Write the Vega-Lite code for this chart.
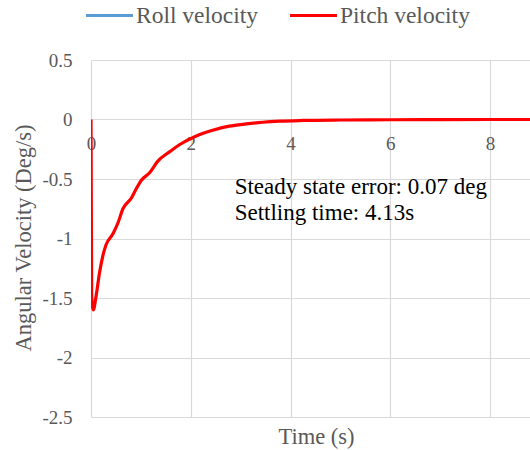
{
  "$schema": "https://vega.github.io/schema/vega-lite/v6.json",
  "autosize": {"type": "none"},
  "padding": {"left": 91, "top": 60, "right": 0, "bottom": 33},
  "width": 439,
  "height": 357,
  "background": "white",
  "config": {
    "view": {"stroke": null},
    "font": "Liberation Serif",
    "axis": {
      "gridColor": "#d9d9d9",
      "gridWidth": 1.2,
      "labelFont": "Liberation Serif",
      "titleFont": "Liberation Serif",
      "labelColor": "#595959",
      "titleColor": "#595959",
      "labelFontSize": 19,
      "titleFontSize": 22.5,
      "titleFontWeight": "normal",
      "ticks": false,
      "domain": false,
      "labelFlush": false,
      "labelExpr": "toString(datum.value)"
    }
  },
  "layer": [
    {
      "data": {
        "values": [
          {"time": 0, "velocity": 0, "series": "Pitch velocity"},
          {"time": 0.013, "velocity": -1.49, "series": "Pitch velocity"},
          {"time": 0.047, "velocity": -1.6, "series": "Pitch velocity"},
          {"time": 0.1, "velocity": -1.49, "series": "Pitch velocity"},
          {"time": 0.17, "velocity": -1.29, "series": "Pitch velocity"},
          {"time": 0.235, "velocity": -1.15, "series": "Pitch velocity"},
          {"time": 0.3, "velocity": -1.055, "series": "Pitch velocity"},
          {"time": 0.44, "velocity": -0.96, "series": "Pitch velocity"},
          {"time": 0.54, "velocity": -0.87, "series": "Pitch velocity"},
          {"time": 0.64, "velocity": -0.75, "series": "Pitch velocity"},
          {"time": 0.81, "velocity": -0.66, "series": "Pitch velocity"},
          {"time": 0.91, "velocity": -0.58, "series": "Pitch velocity"},
          {"time": 1.01, "velocity": -0.51, "series": "Pitch velocity"},
          {"time": 1.17, "velocity": -0.45, "series": "Pitch velocity"},
          {"time": 1.34, "velocity": -0.35, "series": "Pitch velocity"},
          {"time": 1.58, "velocity": -0.27, "series": "Pitch velocity"},
          {"time": 1.78, "velocity": -0.21, "series": "Pitch velocity"},
          {"time": 2.1, "velocity": -0.14, "series": "Pitch velocity"},
          {"time": 2.44, "velocity": -0.09, "series": "Pitch velocity"},
          {"time": 2.77, "velocity": -0.056, "series": "Pitch velocity"},
          {"time": 3.11, "velocity": -0.037, "series": "Pitch velocity"},
          {"time": 3.44, "velocity": -0.023, "series": "Pitch velocity"},
          {"time": 3.78, "velocity": -0.014, "series": "Pitch velocity"},
          {"time": 4.25, "velocity": -0.008, "series": "Pitch velocity"},
          {"time": 5, "velocity": -0.004, "series": "Pitch velocity"},
          {"time": 6, "velocity": -0.002, "series": "Pitch velocity"},
          {"time": 7, "velocity": -0.001, "series": "Pitch velocity"},
          {"time": 8, "velocity": 0, "series": "Pitch velocity"},
          {"time": 8.8, "velocity": 0, "series": "Pitch velocity"}
        ]
      },
      "mark": {"type": "line", "strokeWidth": 3.2, "interpolate": "monotone", "clip": true},
      "encoding": {
        "x": {
          "field": "time",
          "type": "quantitative",
          "scale": {"domain": [0, 8.8], "nice": false},
          "axis": {
            "values": [0, 2, 4, 6, 8],
            "offset": -297.5,
            "labelPadding": 15,
            "title": "Time (s)",
            "titleX": 225,
            "titleY": 317,
            "titleBaseline": "middle",
            "titleAnchor": "middle"
          }
        },
        "y": {
          "field": "velocity",
          "type": "quantitative",
          "scale": {"domain": [-2.5, 0.5], "nice": false, "zero": false},
          "axis": {
            "values": [-2.5, -2, -1.5, -1, -0.5, 0, 0.5],
            "labelPadding": 19,
            "title": "Angular Velocity (Deg/s)",
            "titleX": -68,
            "titleY": 177.5,
            "titleAlign": "center",
            "titleBaseline": "middle",
            "titleAngle": -90
          }
        },
        "color": {
          "field": "series",
          "type": "nominal",
          "scale": {
            "domain": ["Roll velocity", "Pitch velocity"],
            "range": ["#5b9bd5", "#ff0000"]
          },
          "legend": {
            "title": null,
            "orient": "none",
            "direction": "horizontal",
            "legendX": -7,
            "legendY": -70,
            "symbolType": "stroke",
            "symbolSize": 2200,
            "symbolStrokeWidth": 3.2,
            "labelFont": "Liberation Serif",
            "labelFontSize": 23.5,
            "labelColor": "#595959",
            "labelOffset": 1,
            "columnPadding": 24
          }
        }
      }
    },
    {
      "data": {"values": [{"note": "Steady state error: 0.07 deg"}]},
      "mark": {
        "type": "text",
        "align": "left",
        "baseline": "alphabetic",
        "font": "Liberation Serif",
        "fontSize": 23,
        "fill": "#000000",
        "lineHeight": 26
      },
      "encoding": {
        "x": {"datum": 2.88, "type": "quantitative"},
        "y": {"datum": -0.63, "type": "quantitative"},
        "text": {"value": ["Steady state error: 0.07 deg", "Settling time: 4.13s"]}
      }
    }
  ]
}
